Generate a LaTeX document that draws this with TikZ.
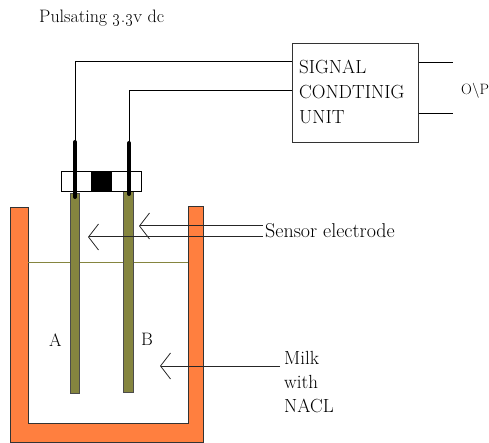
\documentclass[tikz,border=0pt]{standalone}
\usepackage{tikz}
\usetikzlibrary{arrows.meta}
\usepackage{xcolor}
\definecolor{wallorange}{HTML}{FF7F3F}
\definecolor{rodolive}{HTML}{85853F}
\begin{document}
\begin{tikzpicture}[x=1pt,y=-1pt]
    \tikzstyle{edge}=[draw,line width = 1pt,-,black!100]
    \tikzstyle{pointer}=[draw,line width = 1pt,-{Straight Barb[length=10pt,width=26pt,line width=.8pt]},black!85]
    \tikzstyle{rod}=[fill=rodolive,draw=black!70,line width = .6pt]
    \tikzstyle{probe}=[draw,line width = 4pt,line cap=round,black]
    \tikzstyle{lbl}=[inner sep=0pt,anchor=west,font=\fontsize{18}{20}\selectfont,black]
    \useasboundingbox (0,0) rectangle (489,443);
    \draw[fill=wallorange,draw=black!80,line width = 1pt] (10,208) -- (28,208) -- (28,423) -- (188,423) -- (188,207) -- (203,207) -- (203,442) -- (10,442) -- cycle;
    \draw[line width = 1pt,rodolive] (28,262) -- (188,262);
    \fill[rod] (70,193) rectangle (79,393);
    \fill[rod] (123,190) rectangle (133,392);
    \draw[fill=white,draw=black,line width = 1pt] (61,172) rectangle (141,192);
    \fill[black] (91,172) rectangle (112,192);
    \coordinate (atop) at (75,142);
    \coordinate (btop) at (129,143);
    \coordinate (aend) at (75,197);
    \coordinate (bend) at (129,194);
    \draw[probe] (atop) -- (aend);
    \draw[probe] (btop) -- (bend);
    \node[draw,line width = 1pt,black!80,minimum width=126pt,minimum height=99pt,inner sep=0pt] (unit) at (355,93.5) {};
    \node[lbl,align=left,font=\fontsize{19}{25}\selectfont] (unitlbl) at (299,92) {SIGNAL\\CONDTINIG\\UNIT};
    \coordinate (ain) at (292,62);
    \coordinate (bin) at (292,91);
    \draw[edge] (atop) |- (ain);
    \draw[edge] (btop) |- (bin);
    \coordinate (oa) at (453,63);
    \coordinate (ob) at (453,114);
    \draw[edge] (unit.east |- oa) -- (oa);
    \draw[edge] (unit.east |- ob) -- (ob);
    \node[lbl,font=\fontsize{15}{20}\selectfont] (op) at (461,91) {O\textbackslash P};
    \node[lbl] (title) at (39,18) {Pulsating \oldstylenums{3}.\oldstylenums{3}v dc};
    \node[lbl,font=\fontsize{20}{20}\selectfont] (sensor) at (265,231) {Sensor electrode};
    \coordinate (s1) at (263,226);
    \coordinate (s2) at (263,237);
    \coordinate (t1) at (139,226);
    \coordinate (t2) at (88,237);
    \draw[pointer] (s1) -- (t1);
    \draw[pointer] (s2) -- (t2);
    \node[lbl,align=left,font=\fontsize{19}{24}\selectfont] (milk) at (284,382) {Milk\\with\\NACL};
    \coordinate (m1) at (280,366);
    \coordinate (m2) at (160,366);
    \draw[pointer] (m1) -- (m2);
    \node[lbl] (a) at (49,340) {A};
    \node[lbl] (b) at (141,339) {B};
\end{tikzpicture}
\end{document}
